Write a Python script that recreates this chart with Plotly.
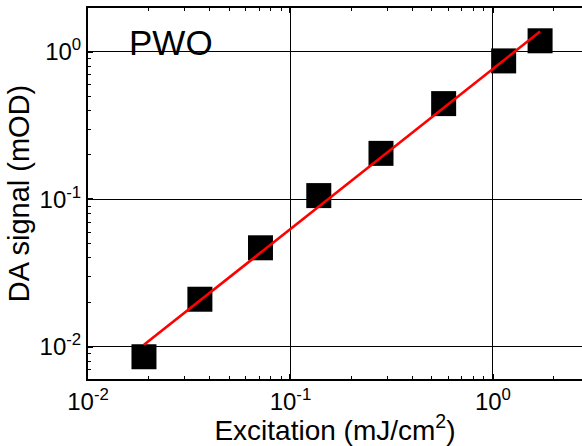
import plotly.graph_objects as go

# Measured DA signal versus excitation fluence (PWO)
excitation = [0.0189, 0.0357, 0.0711, 0.138, 0.280, 0.571, 1.13, 1.71]
da_signal = [0.00855, 0.0210, 0.0469, 0.106, 0.205, 0.446, 0.869, 1.19]

# Power-law fit drawn between the first and last excitation values
fit_x = [0.0189, 1.71]
fit_y = [0.0103, 1.374]

# Axis ticks
x_tickvals = [0.01, 0.1, 1]
x_ticktext = ["10<sup>-2</sup>", "10<sup>-1</sup>", "10<sup>0</sup>"]
y_tickvals = [0.01, 0.1, 1]
y_ticktext = ["10<sup>-2</sup>", "10<sup>-1</sup>", "10<sup>0</sup>"]

FONT = "Liberation Sans, Arial, sans-serif"

fig = go.Figure()
fig.add_trace(go.Scatter(
    x=excitation, y=da_signal, mode="markers",
    marker=dict(symbol="square", size=25, color="black", line=dict(width=0)),
    showlegend=False,
))
fig.add_trace(go.Scatter(
    x=fit_x, y=fit_y, mode="lines",
    line=dict(color="#ff0000", width=2.6),
    showlegend=False,
))

axis_common = dict(
    showgrid=True, gridcolor="black", gridwidth=1.2,
    showline=True, linecolor="black", linewidth=2,
    ticks="inside", ticklen=5, tickwidth=1.5, tickcolor="black",
    tickfont=dict(family=FONT, size=24, color="black"),
    zeroline=False,
)

fig.update_xaxes(
    type="log", range=[-2, 0.44],
    tickvals=x_tickvals, ticktext=x_ticktext,
    mirror="ticks",
    minor=dict(ticks="inside", ticklen=3, tickwidth=1, tickcolor="black",
               dtick="D1", showgrid=False),
    title=dict(text="Excitation (mJ/cm<sup>2</sup>)",
               font=dict(family=FONT, size=28, color="black"), standoff=1),
    **axis_common,
)
fig.update_yaxes(
    type="log", range=[-2.219, 0.298],
    tickvals=y_tickvals, ticktext=y_ticktext,
    minor=dict(ticks="inside", ticklen=3, tickwidth=1, tickcolor="black",
               dtick="D1", showgrid=False),
    title=dict(text="DA signal (mOD)",
               font=dict(family=FONT, size=29, color="black"), standoff=1),
    **axis_common,
)

fig.add_annotation(
    text="PWO", xref="paper", yref="paper", x=0.168, y=0.906,
    xanchor="center", yanchor="middle", showarrow=False,
    font=dict(family=FONT, size=35, color="black"),
)

fig.update_layout(
    width=582, height=446,
    margin=dict(l=88, r=0, t=8, b=67),
    paper_bgcolor="white", plot_bgcolor="white",
    font=dict(family=FONT, color="black"),
)

fig.write_html("out.html")
